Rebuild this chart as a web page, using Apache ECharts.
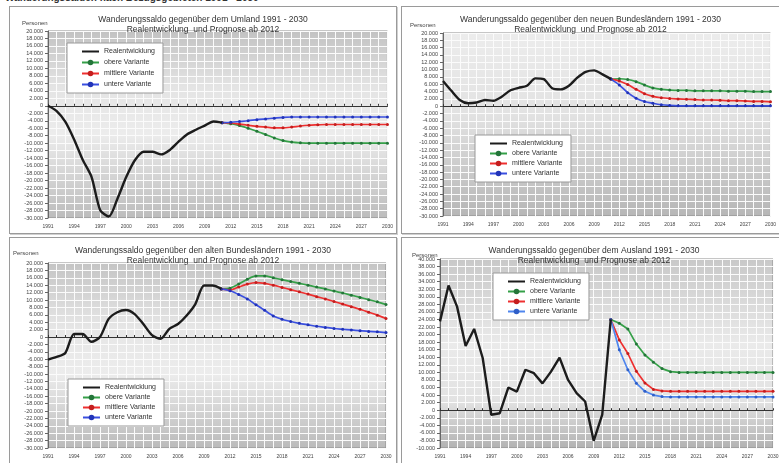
<!DOCTYPE html>
<html>
<head>
<meta charset="utf-8">
<script src="https://cdn.jsdelivr.net/npm/echarts@6/dist/echarts.min.js"></script>
<style>
    body {
        margin: 0;
        width: 779px;
        height: 463px;
        overflow: hidden;
        position: relative;
        background: #fff;
        font-family: 'Liberation Sans', Arial, sans-serif;
    }
    .kopf {
        position: absolute;
        left: 5px;
        top: -8px;
        font-size: 10px;
        font-weight: bold;
        color: #333;
        white-space: nowrap;
    }
    .panel {
        position: absolute;
        border: 1px solid #9a9a9a;
        box-shadow: 1px 1px 0 #d0d0d0;
        background: #fff;
    }
</style>
</head>
<body>
<div class="kopf">Wanderungssalden nach Bezugsgebieten 1991 - 2030</div>
<div id="char1" class="panel" style="left:9px;top:6px;width:386px;height:226px"></div>
<div id="char2" class="panel" style="left:401px;top:6px;width:377px;height:226px"></div>
<div id="char3" class="panel" style="left:9px;top:237px;width:386px;height:232px"></div>
<div id="char4" class="panel" style="left:401px;top:237px;width:384px;height:232px"></div>

<script>
var jahre = ['1991', '1992', '1993', '1994', '1995', '1996', '1997', '1998', '1999', '2000',
    '2001', '2002', '2003', '2004', '2005', '2006', '2007', '2008', '2009', '2010',
    '2011', '2012', '2013', '2014', '2015', '2016', '2017', '2018', '2019', '2020',
    '2021', '2022', '2023', '2024', '2025', '2026', '2027', '2028', '2029', '2030'];

// Realentwicklung 1991 - 2011, Prognosen 2011 - 2030
var umlandReal = [0, -1400, -4300, -9000, -14500, -19000, -27900, -29600, -24700, -19000, -14500,
    -12300, -12300, -13000, -11800, -9600, -7600, -6400, -5300, -4200, -4500];
var umlandOben = [-4500, -4800, -5300, -6000, -6800, -7700, -8600, -9300, -9700, -9900,
    -10000, -10000, -10000, -10000, -10000, -10000, -10000, -10000, -10000, -10000];
var umlandMitte = [-4500, -4600, -4900, -5200, -5500, -5700, -5900, -5900, -5700, -5400,
    -5200, -5100, -5000, -5000, -5000, -5000, -5000, -5000, -5000, -5000];
var umlandUnten = [-4500, -4400, -4200, -4000, -3700, -3500, -3300, -3100, -3000, -3000,
    -3000, -3000, -3000, -3000, -3000, -3000, -3000, -3000, -3000, -3000];

var neueReal = [6900, 4200, 1700, 800, 1000, 1700, 1500, 2600, 4300, 5000, 5600,
    7600, 7400, 4900, 4600, 5600, 7800, 9400, 9800, 8700, 7400];
var neueOben = [7400, 7500, 7300, 6700, 5800, 5000, 4600, 4400, 4300, 4300,
    4200, 4200, 4200, 4200, 4100, 4100, 4100, 4000, 4000, 4000];
var neueMitte = [7400, 6900, 5900, 4600, 3400, 2700, 2300, 2100, 2000, 1900,
    1800, 1700, 1700, 1600, 1500, 1500, 1400, 1300, 1300, 1200];
var neueUnten = [7400, 5800, 3700, 2200, 1300, 800, 400, 200, 100, 100,
    100, 100, 100, 100, 100, 100, 100, 100, 100, 100];

var alteReal = [-6100, -5400, -4300, 800, 800, -1300, 0, 4900, 6700, 7300, 6200,
    3500, 500, -500, 2200, 3500, 5800, 8900, 13900, 13900, 13000];
var alteOben = [13000, 13200, 14300, 15600, 16500, 16500, 16000, 15500, 15000, 14500,
    14000, 13500, 13000, 12400, 11900, 11300, 10700, 10100, 9500, 8800];
var alteMitte = [13000, 12700, 13500, 14300, 14700, 14500, 14000, 13400, 12800, 12200,
    11600, 10900, 10300, 9600, 8900, 8200, 7500, 6700, 5900, 5000];
var alteUnten = [13000, 12500, 11500, 10300, 8700, 7200, 5700, 4800, 4200, 3700,
    3300, 2900, 2600, 2300, 2100, 1900, 1700, 1500, 1400, 1200];

var auslandReal = [23500, 33000, 27400, 17000, 21500, 13800, -1200, -800, 6000, 4900, 10700,
    9800, 7100, 10200, 13900, 8000, 4500, 2300, -8100, -1200, 24000];
var auslandOben = [24000, 23000, 21500, 17500, 14600, 12700, 11000, 10200, 10000, 10000,
    10000, 10000, 10000, 10000, 10000, 10000, 10000, 10000, 10000, 10000];
var auslandMitte = [24000, 18600, 15000, 10300, 7200, 5500, 5100, 5000, 5000, 5000,
    5000, 5000, 5000, 5000, 5000, 5000, 5000, 5000, 5000, 5000];
var auslandUnten = [24000, 16000, 10700, 7100, 5000, 4000, 3600, 3500, 3500, 3500,
    3500, 3500, 3500, 3500, 3500, 3500, 3500, 3500, 3500, 3500];

var untertitel = 'Realentwicklung  und Prognose ab 2012';

window.onload = function () {
    char1();
    char2();
    char3();
    char4();
};

// Zahlen mit Tausenderpunkt
function fmt(v) {
    var s = String(Math.abs(v)).replace(/\B(?=(\d{3})+(?!\d))/g, '.');
    return v < 0 ? '-' + s : s;
}

function realDaten(arr) {
    var out = arr.slice();
    while (out.length < jahre.length) out.push(null);
    return out;
}

function prognose(arr) {
    var out = arr.slice();
    while (out.length < jahre.length) out.unshift(null);
    return out;
}

function verlauf(stops) {
    return {
        type: 'linear', x: 0, y: 0, x2: 0, y2: 1,
        colorStops: stops.map(function (s) { return {offset: s[0], color: s[1]}; })
    };
}

function baueOption(c) {
    var linie = function (name, daten, farbe, punkt) {
        return {
            name: name,
            type: 'line',
            data: daten,
            smooth: c.glatt,
            symbol: 'circle',
            symbolSize: 3,
            lineStyle: {width: 1.7, color: farbe},
            itemStyle: {color: punkt}
        };
    };
    return {
        animation: false,
        textStyle: {fontFamily: 'Liberation Sans, Arial, sans-serif'},
        title: {
            text: c.titel + '\n' + untertitel,
            left: 'center',
            top: 3,
            textStyle: {fontSize: 8.5, fontWeight: 'normal', color: '#333', lineHeight: 9.5}
        },
        graphic: [{
            type: 'text',
            left: c.personen[0],
            top: c.personen[1],
            style: {text: 'Personen', fontSize: 6, fill: '#444'}
        }],
        legend: {
            orient: 'vertical',
            left: c.legende[0],
            top: c.legende[1],
            backgroundColor: '#fff',
            borderColor: '#999',
            borderWidth: 1,
            borderRadius: 0,
            padding: [5, 8, 5, 14],
            itemWidth: 17,
            itemHeight: 7,
            itemGap: c.legendeAbstand,
            textStyle: {fontSize: 7, color: '#333'},
            data: [
                {name: 'Realentwicklung', itemStyle: {opacity: 0}},
                'obere Variante', 'mittlere Variante', 'untere Variante'
            ]
        },
        grid: {
            left: c.grid[0], top: c.grid[1], width: c.grid[2], height: c.grid[3],
            show: true,
            backgroundColor: verlauf(c.hinten),
            borderColor: '#8c8c8c',
            borderWidth: 1
        },
        xAxis: [
            {
                type: 'category',
                data: jahre,
                boundaryGap: false,
                axisLine: {show: false, onZero: false},
                axisTick: {show: false},
                axisLabel: {interval: 2, fontSize: 5, color: '#444', margin: 6},
                splitLine: {show: true, interval: 0, lineStyle: {color: '#fbfbfb', width: 1}}
            },
            {
                type: 'category',
                data: jahre,
                boundaryGap: false,
                position: 'top',
                axisLine: {onZero: true, lineStyle: {color: '#333', width: 1}},
                axisTick: {show: true, interval: 0, length: 2, lineStyle: {color: '#333'}},
                axisLabel: {show: false},
                splitLine: {show: false}
            }
        ],
        yAxis: {
            type: 'value',
            min: c.yMin,
            max: c.yMax,
            interval: 2000,
            axisLine: {show: true, lineStyle: {color: '#666'}},
            axisTick: {show: true, length: 3, lineStyle: {color: '#666'}},
            axisLabel: {fontSize: 5.5, color: '#444', margin: 5, formatter: fmt},
            splitLine: {lineStyle: {color: '#fbfbfb', width: 1}}
        },
        series: [
            {
                name: 'Realentwicklung',
                type: 'line',
                data: realDaten(c.real),
                smooth: c.glatt,
                symbol: 'none',
                z: 5,
                lineStyle: {width: 2.4, color: '#1c1c1c'},
                itemStyle: {color: '#1c1c1c'}
            },
            linie('obere Variante', prognose(c.oben), '#35a048', '#24753a'),
            linie('mittlere Variante', prognose(c.mitte), '#ee3030', '#c41e1e'),
            linie('untere Variante', prognose(c.unten), c.blau, c.blauPunkt)
        ]
    };
}

function zeichne(id, c) {
    var myChart = echarts.init(document.getElementById(id));
    myChart.setOption(baueOption(c));
    window.addEventListener('resize', function () {
        myChart.resize();
    });
}

function char1() {
    zeichne('char1', {
        titel: 'Wanderungssaldo gegenüber dem Umland 1991 - 2030',
        real: umlandReal, oben: umlandOben, mitte: umlandMitte, unten: umlandUnten,
        yMin: -30000, yMax: 20000,
        grid: [38, 24, 340, 187],
        legende: [57, 36], legendeAbstand: 4,
        personen: [12, 13],
        glatt: 0.25,
        blau: '#3a4fe0', blauPunkt: '#2234b8',
        hinten: [[0, '#c2c2c2'], [0.3, '#e4e4e4'], [0.55, '#ececec'], [1, '#bcbcbc']]
    });
}

function char2() {
    zeichne('char2', {
        titel: 'Wanderungssaldo gegenüber den neuen Bundesländern 1991 - 2030',
        real: neueReal, oben: neueOben, mitte: neueMitte, unten: neueUnten,
        yMin: -30000, yMax: 20000,
        grid: [41, 26, 331, 183],
        legende: [73, 128], legendeAbstand: 3,
        personen: [8, 15],
        glatt: 0.25,
        blau: '#3a4fe0', blauPunkt: '#2234b8',
        hinten: [[0, '#ececec'], [0.45, '#e2e2e2'], [1, '#b6b6b6']]
    });
}

function char3() {
    zeichne('char3', {
        titel: 'Wanderungssaldo gegenüber den alten Bundesländern 1991 - 2030',
        real: alteReal, oben: alteOben, mitte: alteMitte, unten: alteUnten,
        yMin: -30000, yMax: 20000,
        grid: [38, 25, 338, 185],
        legende: [58, 141], legendeAbstand: 3,
        personen: [3, 12],
        glatt: 0.25,
        blau: '#3a4fe0', blauPunkt: '#2234b8',
        hinten: [[0, '#c4c4c4'], [0.35, '#e6e6e6'], [0.6, '#ececec'], [1, '#bababa']]
    });
}

function char4() {
    zeichne('char4', {
        titel: 'Wanderungssaldo gegenüber dem Ausland 1991 - 2030',
        real: auslandReal, oben: auslandOben, mitte: auslandMitte, unten: auslandUnten,
        yMin: -10000, yMax: 40000,
        grid: [38, 21, 333, 189],
        legende: [91, 35], legendeAbstand: 3,
        personen: [10, 14],
        glatt: false,
        blau: '#4f86ee', blauPunkt: '#2f5fc8',
        hinten: [[0, '#c8c8c8'], [0.45, '#eaeaea'], [0.75, '#e2e2e2'], [1, '#b2b2b2']]
    });
}
</script>
</body>
</html>
